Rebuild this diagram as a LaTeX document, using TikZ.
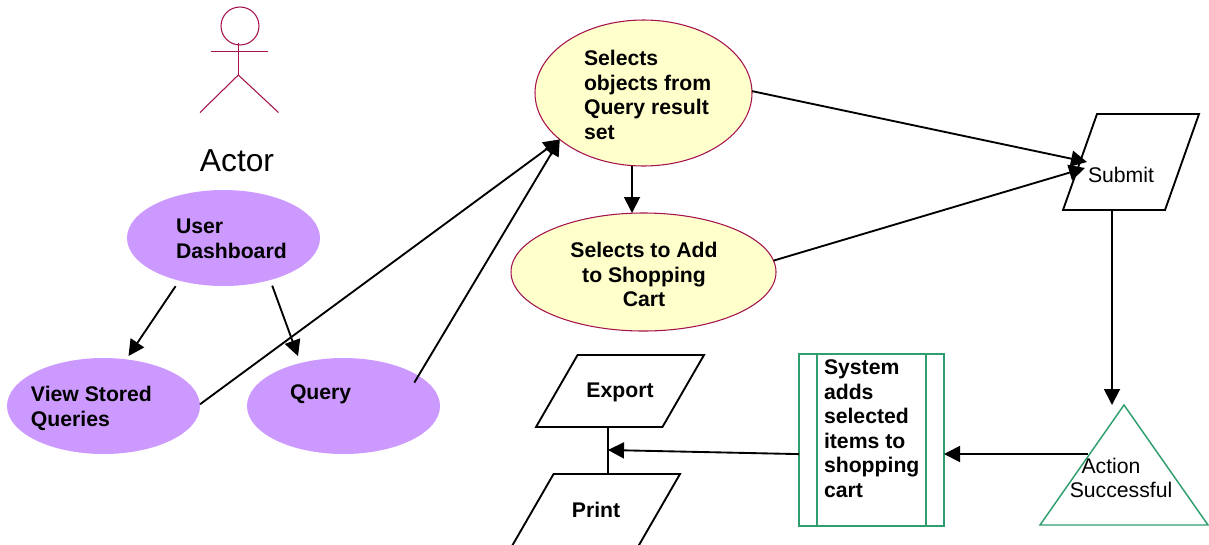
\documentclass[tikz,border=0pt]{standalone}
\usepackage{fontspec}
\setmainfont{Liberation Sans}
\usetikzlibrary{arrows.meta,shapes.geometric}
\definecolor{actorred}{HTML}{A5134F}
\definecolor{sysgreen}{HTML}{2F9E6E}
\definecolor{dashpurple}{HTML}{CC99FF}
\definecolor{selyellow}{HTML}{FFFFCC}
\begin{document}
\begin{tikzpicture}[x=0.75pt,y=-0.75pt,inner sep=0pt,outer sep=0pt,line width=1.4pt,
boldtext/.style={font=\fontsize{15.9}{18.4}\selectfont\bfseries,align=left},
plaintext/.style={font=\fontsize{15.9}{18.4}\selectfont,align=center},
arr/.style={-{Triangle[length=12pt,width=12pt]}},
dashblock/.style={draw=none,fill=dashpurple,ellipse,minimum width=144.75pt,minimum height=72pt},
selblock/.style={draw=actorred,line width=0.8pt,fill=selyellow,ellipse},
paragram/.style={draw,trapezium,trapezium stretches body=true,minimum width=#1,text height=32.5pt,text depth=21.5pt,
  trapezium left angle=60,trapezium right angle=120},
sysblock/.style={draw=sysgreen,line width=1.1pt,rectangle,minimum width=108.75pt,minimum height=129pt},
actorline/.style={draw=actorred,line width=0.8pt}]
\useasboundingbox (0,0) rectangle (1209,544);
% actor
\draw (240,26) node[circle,actorline,minimum size=28.5pt] (head) {};
\coordinate (neck) at (238.3,43);
\coordinate (hip) at (238.3,75);
\draw[actorline] (neck) -- (hip);
\draw[actorline] (210.5,51.5) -- (268,51.5);
\draw[actorline] (200,112.5) -- (hip) -- (278.5,112.5);
\draw (237,161) node[font=\fontsize{23.8}{27}\selectfont] (actor) {Actor};
% ellipses
\draw (223.5,238) node[dashblock] (dash) {};
\draw (176,239) node[boldtext,anchor=west] (dashtext) {User\\Dashboard};
\draw (103.5,406) node[dashblock] (view) {};
\draw (31,408.5) node[boldtext,anchor=west] (viewtext) {View Stored\\Queries};
\draw (343.5,406) node[dashblock] (query) {};
\draw (290,394) node[boldtext,anchor=west] (querytext) {Query};
\draw (643.5,93) node[selblock,minimum width=162.75pt,minimum height=109.5pt] (selects) {};
\draw (584,95) node[boldtext,anchor=west] (selectstext) {Selects\\objects from\\Query result\\set};
\draw (643.5,272) node[selblock,minimum width=198.75pt,minimum height=88.5pt] (addcart) {};
\draw (644,274.5) node[boldtext,align=center] (addtext) {Selects to Add\\to Shopping\\Cart};
% parallelograms
\draw (1131,162) node[paragram=102pt,text height=36pt,text depth=36pt,trapezium left angle=70.5,trapezium right angle=109.5] (submit) {\phantom{x}};
\draw (1121,175) node[plaintext] (submittext) {Submit};
\draw (620,391) node[paragram=126pt,boldtext,text height=31.8pt,text depth=22.2pt] (export) {Export};
\draw (596,510) node[paragram=126pt,boldtext] (print) {Print};
% system box
\draw (871.5,440) node[sysblock] (sys) {};
\draw[draw=sysgreen,line width=1.1pt] ([xshift=13.5pt]sys.north west) -- ([xshift=13.5pt]sys.south west);
\draw[draw=sysgreen,line width=1.1pt] ([xshift=-13.5pt]sys.north east) -- ([xshift=-13.5pt]sys.south east);
\draw (824,428.5) node[boldtext,anchor=west] (systext) {System\\adds\\selected\\items to\\shopping\\cart};
% triangle
\draw (1124,525) node[draw=sysgreen,line width=1.1pt,isosceles triangle,isosceles triangle stretches=true,
  shape border rotate=90,minimum width=126pt,minimum height=90pt,anchor=lower side] (result) {\phantom{x}};
\draw (1121,478) node[plaintext] (resulttext) {Action\hspace*{15pt}\\Successful};
% free ends
\coordinate (submitA) at (1087,162);
\coordinate (submitB) at (1085,168);
\coordinate (resultin) at (1112,405);
\coordinate (resultout) at (1088,454);
\coordinate (joint) at (608,450);
\coordinate (selout) at (632,0);
% connectors
\draw[arr,shorten <=5pt,shorten >=3pt] (dash.224.7) -- (view.64.7);
\draw[arr,shorten <=4.5pt,shorten >=5.5pt] (dash.-42.1) -- (query.135.5);
\draw[arr] (view.1) -- (selects.209.4);
\draw[arr,shorten <=-6pt] (query.22) -- (selects.209.4);
\draw[arr] (selects.south -| selout) -- (addcart.north -| selout);
\draw[arr] (selects.1) -- (submitA);
\draw[arr] (addcart.5.6) -- (submitB);
\draw[arr] (submit.south -| resultin) -- (resultin);
\draw[arr] (resultout) -- (sys.east |- resultout);
\draw[arr] (sys.191.5) -- (joint);
\draw (export.south -| joint) -- (print.north -| joint);
\end{tikzpicture}
\end{document}
